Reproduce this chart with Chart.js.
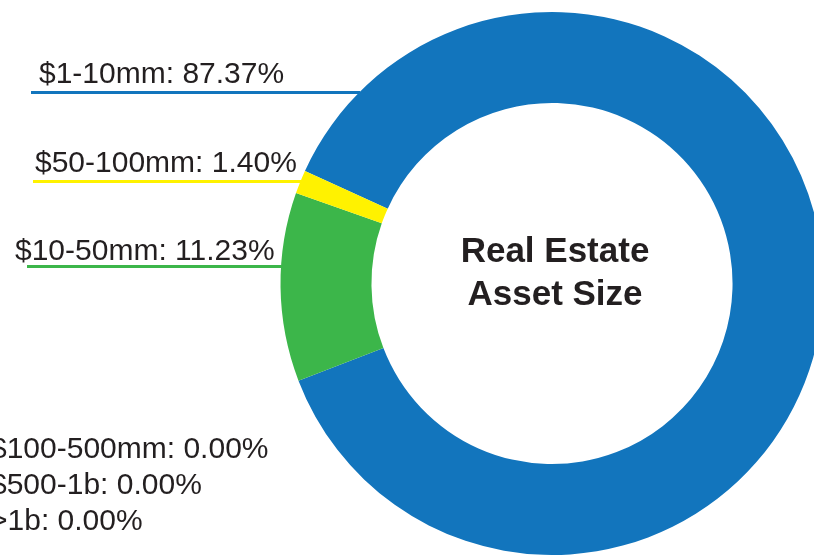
<!DOCTYPE html>
<html lang="en">
<head>
  <meta charset="UTF-8">
  <title>Real Estate Asset Size</title>
  <style>
    html, body {
      margin: 0;
      padding: 0;
      background: #fff;
      overflow: hidden;
    }
    .wrap {
      position: absolute;
      left: 0;
      top: 0;
      width: 840px;
      height: 555px;
    }
  </style>
</head>
<body>
  <div class="wrap"><canvas id="assetChart"></canvas></div>

  <script src="https://cdn.jsdelivr.net/npm/chart.js"></script>
  <script>
    // data
    const categories = ["$1-10mm", "$10-50mm", "$50-100mm", "$100-500mm", "$500-1b", ">1b"];
    const shares = [87.37, 11.23, 1.40, 0.00, 0.00, 0.00];
    const sliceColors = ["#1275bd", "#3cb64a", "#fff200", "#9e9e9e", "#6d6d6d", "#444444"];
    const centerTitle = ["Real Estate", "Asset Size"];

    const textColor = "#231f20";
    const labelFont = "30px 'Liberation Sans', Arial, sans-serif";

    // where each label sits on the page (text x, baseline, and leader line y if any)
    const labelSpots = [
      { x: 39, y: 83, lineY: 92.5, lineX: 31 },
      { x: 15, y: 260, lineY: 266.5, lineX: 27 },
      { x: 35, y: 172, lineY: 181.5, lineX: 33 },
      { x: -10, y: 458 },
      { x: -10, y: 494 },
      { x: -10, y: 530 }
    ];

    const labelPlugin = {
      id: "sideLabels",
      afterDraw(chart) {
        const ctx = chart.ctx;
        const arc = chart.getDatasetMeta(0).data[0];
        const cx = arc.x, cy = arc.y, r = arc.outerRadius;

        ctx.save();
        ctx.font = labelFont;
        ctx.textAlign = "left";
        ctx.textBaseline = "alphabetic";
        categories.forEach((cat, i) => {
          const spot = labelSpots[i];
          ctx.fillStyle = textColor;
          ctx.fillText(cat + ": " + shares[i].toFixed(2) + "%", spot.x, spot.y);
          if (spot.lineY !== undefined) {
            // horizontal leader running into the outer edge of the ring
            const dy = spot.lineY - cy;
            const endX = cx - Math.sqrt(Math.max(r * r - dy * dy, 0));
            ctx.strokeStyle = sliceColors[i];
            ctx.lineWidth = 3;
            ctx.beginPath();
            ctx.moveTo(spot.lineX, spot.lineY);
            ctx.lineTo(endX + 1, spot.lineY);
            ctx.stroke();
          }
        });

        // title in the hole
        ctx.font = "bold 35px 'Liberation Sans', Arial, sans-serif";
        ctx.textAlign = "center";
        ctx.fillStyle = textColor;
        ctx.fillText(centerTitle[0], cx + 3, 262);
        ctx.fillText(centerTitle[1], cx + 3, 305);
        ctx.restore();
      }
    };

    new Chart(document.getElementById("assetChart"), {
      type: "doughnut",
      data: {
        labels: categories,
        datasets: [{
          data: shares,
          backgroundColor: sliceColors,
          borderWidth: 0,
          hoverOffset: 0
        }]
      },
      options: {
        responsive: true,
        maintainAspectRatio: false,
        animation: false,
        rotation: 294.5,
        cutout: "66.5%",
        layout: {
          padding: { left: 264, top: 12, right: 0, bottom: 0 }
        },
        plugins: {
          legend: { display: false },
          tooltip: { enabled: false }
        }
      },
      plugins: [labelPlugin]
    });
  </script>
</body>
</html>
